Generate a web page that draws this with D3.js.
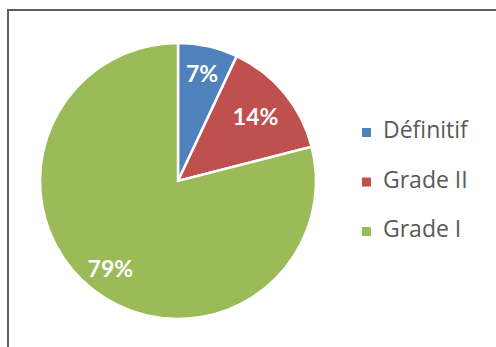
<!DOCTYPE html>
<html>
<head>
<meta charset="utf-8">
<script src="https://cdn.jsdelivr.net/npm/d3@7"></script>
<style>
  body { margin: 0; background: #fff; }
</style>
</head>
<body>
<div id="chart"></div>
<script>
var categories = ["Définitif", "Grade II", "Grade I"];
var values = [7, 14, 79];
var labels = ["7%", "14%", "79%"];

var width = 496,
    height = 347;

var svg = d3.select("#chart").append("svg")
    .attr("width", width)
    .attr("height", height)
    .style("background-color", "white");

// chart frame (only top and left edges are visible in the shot)
svg.append("rect")
    .attr("x", 8)
    .attr("y", 10)
    .attr("width", width + 20)
    .attr("height", height + 20)
    .attr("fill", "none")
    .attr("stroke", "#5e5e5e")
    .attr("stroke-width", 2);

var color = d3.scaleOrdinal()
    .domain(categories)
    .range(["#4f81bd", "#c0504d", "#9bbb59"]);

var cx = 178, cy = 181, radius = 138;

var pie = d3.pie().sort(null).value(function(d) { return d.value; });
var data = categories.map(function(c, i) {
    return { name: c, value: values[i], label: labels[i] };
});

var arc = d3.arc().innerRadius(0).outerRadius(radius);
var labelArc = d3.arc().innerRadius(radius * 0.8).outerRadius(radius * 0.8);
// red label sits a bit closer to the middle
var labelArcIn = d3.arc().innerRadius(radius * 0.73).outerRadius(radius * 0.73);

var g = svg.append("g")
    .attr("transform", "translate(" + cx + "," + cy + ")");

var arcs = pie(data);

g.selectAll("path.slice")
    .data(arcs)
    .enter()
    .append("path")
    .attr("class", "slice")
    .attr("d", arc)
    .attr("fill", function(d) { return color(d.data.name); })
    .attr("stroke", "white")
    .attr("stroke-width", 2.5)
    .attr("stroke-linejoin", "miter");

g.selectAll("text.pct")
    .data(arcs)
    .enter()
    .append("text")
    .attr("class", "pct")
    .attr("transform", function(d, i) {
        var c = (i === 1 ? labelArcIn : labelArc).centroid(d);
        return "translate(" + c[0] + "," + c[1] + ")";
    })
    .attr("text-anchor", "middle")
    .attr("dy", "0.36em")
    .attr("font-family", "Lato, 'Open Sans', sans-serif")
    .attr("font-weight", "bold")
    .style("font-size", "23px")
    .style("fill", "white")
    .text(function(d) { return d.data.label; });

// legend
var legend = svg.append("g")
    .attr("transform", "translate(362,132)");

var rows = legend.selectAll("g.row")
    .data(categories)
    .enter()
    .append("g")
    .attr("class", "row")
    .attr("transform", function(d, i) { return "translate(0," + (i * 49.5) + ")"; });

rows.append("rect")
    .attr("x", 0)
    .attr("y", -4)
    .attr("width", 9)
    .attr("height", 9)
    .attr("fill", function(d) { return color(d); });

rows.append("text")
    .attr("x", 21)
    .attr("y", -2)
    .attr("dy", "0.36em")
    .attr("font-family", "'Open Sans', sans-serif")
    .style("font-size", "23px")
    .style("fill", "#595959")
    .text(function(d) { return d; });
</script>
</body>
</html>
